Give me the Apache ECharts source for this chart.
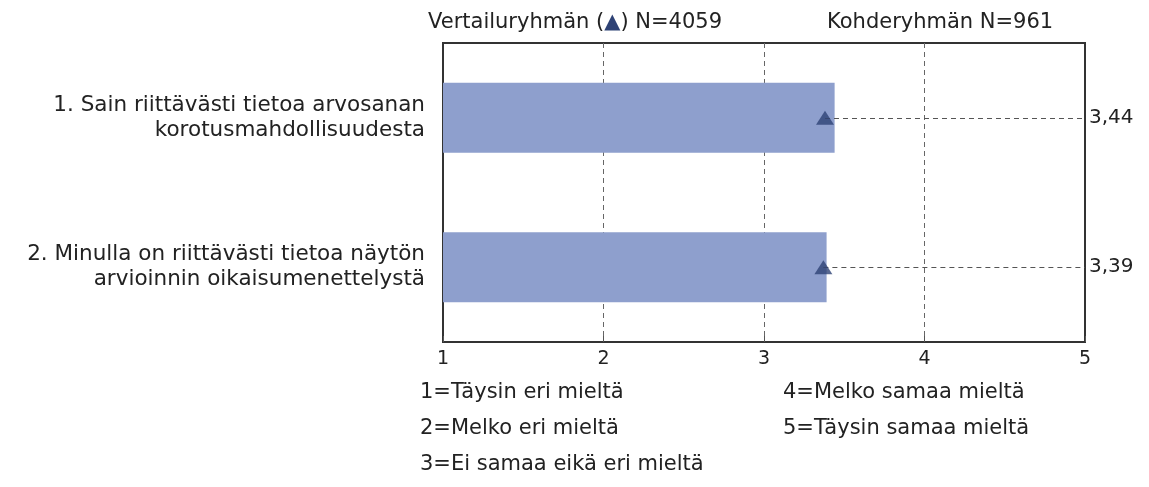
<!DOCTYPE html>
<html>
<head>
<meta charset="utf-8">
<script src="https://cdn.jsdelivr.net/npm/echarts@6/dist/echarts.min.js"></script>
<style>
  html, body { margin: 0; padding: 0; background: #fff; }
  #chart { width: 1149px; height: 487px; }
</style>
</head>
<body>
<div id="chart"></div>
<script>
const categories = [
  '1. Sain riittävästi tietoa arvosanan\nkorotusmahdollisuudesta',
  '2. Minulla on riittävästi tietoa näytön\narvioinnin oikaisumenettelystä'
];
const targetMeans = [3.44, 3.39];      // Kohderyhmä (bars)
const comparisonMeans = [3.38, 3.37];  // Vertailuryhmä (triangles)
const xTicks = [1, 2, 3, 4, 5];
const scaleLabels = [
  '1=Täysin eri mieltä',
  '2=Melko eri mieltä',
  '3=Ei samaa eikä eri mieltä',
  '4=Melko samaa mieltä',
  '5=Täysin samaa mieltä'
];
const comparisonN = 4059;
const targetN = 961;

const FONT = 'DejaVu Sans';
const fmt = v => v.toFixed(2).replace('.', ',');

var chart = echarts.init(document.getElementById('chart'));

// legend of the scale, two columns under the axis
var scaleTexts = scaleLabels.map(function (t, i) {
  var col = i < 3 ? 0 : 1;
  var row = i < 3 ? i : i - 3;
  return {
    type: 'text',
    left: col === 0 ? 420 : 783,
    top: 382 + row * 36,
    style: { text: t, font: '21px "' + FONT + '"', fill: '#222' }
  };
});

var option = {
  backgroundColor: '#fff',
  animation: false,
  textStyle: { fontFamily: FONT },
  title: [
    {
      text: '{a|Vertailuryhmän (}{t|▲}{a|) N=' + comparisonN + '}',
      left: 428, top: 12, padding: 0,
      textStyle: {
        fontWeight: 'normal',
        rich: {
          a: { fontSize: 21, color: '#222', fontWeight: 'normal', fontFamily: FONT },
          t: { fontSize: 21, color: '#2e4275', fontWeight: 'normal', fontFamily: FONT }
        }
      }
    },
    {
      text: 'Kohderyhmän N=' + targetN,
      left: 827, top: 12, padding: 0,
      textStyle: { fontSize: 21, color: '#222', fontWeight: 'normal', fontFamily: FONT }
    }
  ],
  graphic: scaleTexts,
  grid: {
    left: 443, right: 64, top: 43, bottom: 145,
    show: true, borderColor: '#333', borderWidth: 2, backgroundColor: 'transparent'
  },
  xAxis: {
    type: 'value',
    min: xTicks[0], max: xTicks[xTicks.length - 1], interval: 1,
    axisLine: { show: true, lineStyle: { color: '#333', width: 2 } },
    axisTick: { show: true, inside: true, length: 6, lineStyle: { color: '#555' } },
    axisLabel: { color: '#222', fontSize: 19, margin: 8, fontFamily: FONT },
    splitLine: {
      show: true, showMinLine: false, showMaxLine: false,
      lineStyle: { color: '#666', type: [5, 4], width: 1 }
    }
  },
  yAxis: {
    type: 'category',
    inverse: true,
    data: categories,
    axisLine: { show: true, lineStyle: { color: '#333', width: 2 } },
    axisTick: { show: false },
    axisLabel: {
      color: '#222', fontSize: 21.5, lineHeight: 25, margin: 18,
      align: 'right', fontFamily: FONT
    }
  },
  series: [
    {
      name: 'Kohderyhmä',
      type: 'bar',
      data: targetMeans,
      barWidth: 70,
      itemStyle: { color: '#8e9fcd' },
      z: 2
    },
    {
      name: 'Vertailuryhmä',
      type: 'scatter',
      data: comparisonMeans.map((v, i) => [v, i]),
      symbol: 'triangle',
      symbolSize: [18, 14],
      itemStyle: { color: '#2e4275' },
      z: 5,
      markLine: {
        silent: true,
        symbol: ['none', 'none'],
        lineStyle: { color: '#555', type: [5, 4], width: 1 },
        label: {
          show: true, position: 'end', distance: 4,
          color: '#222', fontSize: 20, fontFamily: FONT,
          formatter: p => fmt(targetMeans[p.dataIndex])
        },
        data: comparisonMeans.map((v, i) => [
          { coord: [v, i] },
          { coord: [xTicks[xTicks.length - 1], i] }
        ])
      }
    }
  ]
};

chart.setOption(option);
</script>
</body>
</html>
